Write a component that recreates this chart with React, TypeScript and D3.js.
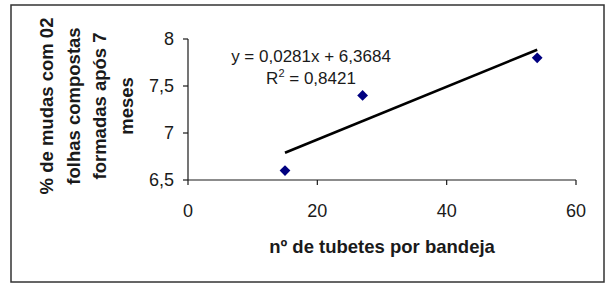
import React from 'react';
import * as d3 from 'd3';

// tubes per tray vs % of seedlings with 2 compound leaves
const tubes = [15, 27, 54];
const pctSeedlings = [6.6, 7.4, 7.8];
const xTicks = [0, 20, 40, 60];
const yTicks = [6.5, 7, 7.5, 8];
const yTitleLines = ['% de mudas com 02', 'folhas compostas', 'formadas após 7', 'meses'];
const slope = 0.0281;
const intercept = 6.3684;

const W = 607;
const H = 284;
const fmt = (v: number) => String(v).replace('.', ',');

export default function App() {
  const x = d3.scaleLinear().domain([0, 60]).range([188, 576]);
  const y = d3.scaleLinear().domain([6.5, 8]).range([180, 39]);

  const xMin = d3.min(tubes) as number;
  const xMax = d3.max(tubes) as number;
  const trend = d3.line<number>()
    .x(d => x(d))
    .y(d => y(slope * d + intercept));

  // square turned 45deg -> squat diamond like the original marker
  const diamond = d3.symbol().type(d3.symbolSquare).size(58)();
  const font = 'Liberation Sans, Arial, sans-serif';
  const ink = '#1a1a1a';

  return (
    <svg width={W} height={H} style={{ position: 'absolute', left: 0, top: 0, background: '#fff' }} fontFamily={font}>
      <rect x={11} y={5} width={593} height={277} fill="#fff" stroke="#333" strokeWidth={1.5} />

      {/* axes */}
      <line x1={x(0)} x2={x(0)} y1={y(8)} y2={y(6.5)} stroke={ink} strokeWidth={1.2} />
      <line x1={x(0)} x2={x(60)} y1={y(6.5)} y2={y(6.5)} stroke={ink} strokeWidth={1.2} />
      {yTicks.map(t => (
        <g key={'y' + t}>
          <line x1={x(0) - 5} x2={x(0)} y1={y(t)} y2={y(t)} stroke={ink} strokeWidth={1.2} />
          <text x={174} y={y(t)} dy="0.35em" textAnchor="end" fontSize={18} fill={ink}>{fmt(t)}</text>
        </g>
      ))}
      {xTicks.map(t => (
        <g key={'x' + t}>
          <line x1={x(t)} x2={x(t)} y1={y(6.5)} y2={y(6.5) + 5} stroke={ink} strokeWidth={1.2} />
          <text x={x(t)} y={217} textAnchor="middle" fontSize={18} fill={ink}>{fmt(t)}</text>
        </g>
      ))}

      {/* trend line */}
      <path d={trend([xMin, xMax]) || ''} fill="none" stroke="#000" strokeWidth={2.6} />

      {/* points */}
      {tubes.map((t, i) => (
        <path key={i} d={diamond || ''} transform={`translate(${x(t)},${y(pctSeedlings[i])}) rotate(45)`} fill="#000080" />
      ))}

      {/* equation */}
      <text x={311} y={62} textAnchor="middle" fontSize={17} fill={ink}>y = 0,0281x + 6,3684</text>
      <text x={311} y={84} textAnchor="middle" fontSize={17} fill={ink}>
        R<tspan dy={-7} fontSize={11}>2</tspan><tspan dy={7}> = 0,8421</tspan>
      </text>

      {/* axis titles */}
      <text x={382} y={253} textAnchor="middle" fontSize={18.5} fontWeight="bold" fill={ink}>nº de tubetes por bandeja</text>
      {yTitleLines.map((l, i) => (
        <text key={i} transform={`translate(${53 + i * 26.5},${106}) rotate(-90)`} textAnchor="middle" fontSize={18.5} fontWeight="bold" fill={ink}>{l}</text>
      ))}
    </svg>
  );
}
